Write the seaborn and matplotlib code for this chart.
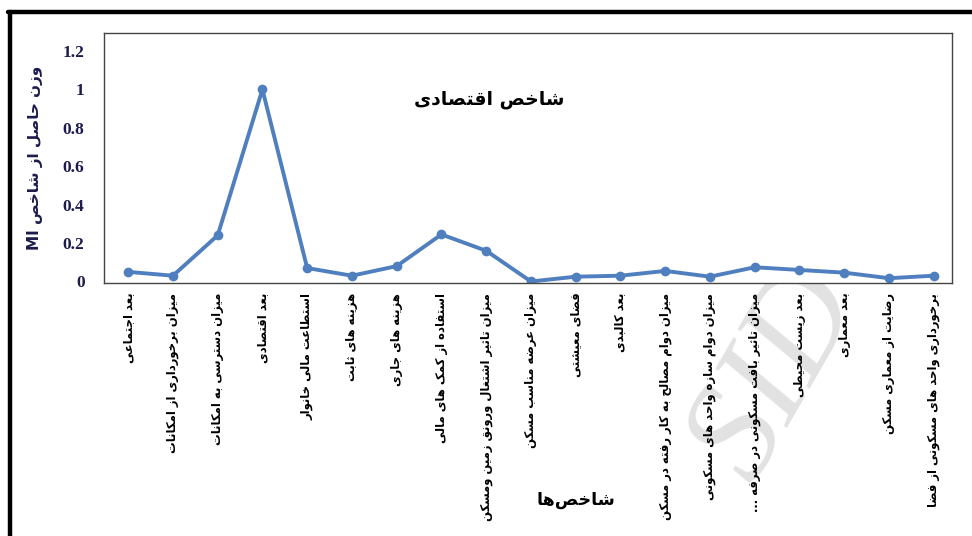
import numpy as np
import pandas as pd
import matplotlib
matplotlib.use('Agg')
import matplotlib.pyplot as plt
from matplotlib.lines import Line2D
import seaborn as sns
import re

SHAKHES = [
    'بعد اجتماعی',
    'میزان برخورداری از امکانات',
    'میزان دسترسی به امکانات',
    'بعد اقتصادی',
    'استطاعت مالی خانوار',
    'هزینه های ثابت',
    'هزینه های جاری',
    'استفاده از کمک های مالی',
    'میزان تاثیر اشتغال ورونق زمین ومسکن',
    'میزان عرضه مناسب مسکن',
    'فضای معیشتی',
    'بعد کالبدی',
    'میزان دوام مصالح به کار رفته در مسکن',
    'میزان دوام سازه واحد های مسکونی',
    'میزان تاثیر بافت مسکونی در صرفه ...',
    'بعد زیست محیطی',
    'بعد معماری',
    'رضایت از معماری مسکن',
    'برخورداری واحد های مسکونی از فضا',
]
VAZN = [0.05, 0.03, 0.24, 1.0, 0.07, 0.03, 0.08, 0.245, 0.16, 0.0,
        0.025, 0.03, 0.055, 0.025, 0.074, 0.06, 0.046, 0.017, 0.03]
Y_TICKS = [0, 0.2, 0.4, 0.6, 0.8, 1, 1.2]
Y_TICK_LABELS = ['0', '0.2', '0.4', '0.6', '0.8', '1', '1.2']
BASLIK   = 'شاخص اقتصادی'
X_ETIKET = 'شاخص\u200cها'
Y_ETIKET = 'وزن حاصل از شاخص MI'

# --- minimal arabic/persian shaping + bidi (matplotlib does no shaping) ---
FORMS = {
    'ا': ('\uFE8D', '\uFE8E', None, None), 'آ': ('\uFE81', '\uFE82', None, None),
    'ب': ('\uFE8F', '\uFE90', '\uFE91', '\uFE92'), 'پ': ('\uFB56', '\uFB57', '\uFB58', '\uFB59'),
    'ت': ('\uFE95', '\uFE96', '\uFE97', '\uFE98'), 'ث': ('\uFE99', '\uFE9A', '\uFE9B', '\uFE9C'),
    'ج': ('\uFE9D', '\uFE9E', '\uFE9F', '\uFEA0'), 'چ': ('\uFB7A', '\uFB7B', '\uFB7C', '\uFB7D'),
    'ح': ('\uFEA1', '\uFEA2', '\uFEA3', '\uFEA4'), 'خ': ('\uFEA5', '\uFEA6', '\uFEA7', '\uFEA8'),
    'د': ('\uFEA9', '\uFEAA', None, None), 'ذ': ('\uFEAB', '\uFEAC', None, None),
    'ر': ('\uFEAD', '\uFEAE', None, None), 'ز': ('\uFEAF', '\uFEB0', None, None),
    'ژ': ('\uFB8A', '\uFB8B', None, None),
    'س': ('\uFEB1', '\uFEB2', '\uFEB3', '\uFEB4'), 'ش': ('\uFEB5', '\uFEB6', '\uFEB7', '\uFEB8'),
    'ص': ('\uFEB9', '\uFEBA', '\uFEBB', '\uFEBC'), 'ض': ('\uFEBD', '\uFEBE', '\uFEBF', '\uFEC0'),
    'ط': ('\uFEC1', '\uFEC2', '\uFEC3', '\uFEC4'), 'ظ': ('\uFEC5', '\uFEC6', '\uFEC7', '\uFEC8'),
    'ع': ('\uFEC9', '\uFECA', '\uFECB', '\uFECC'), 'غ': ('\uFECD', '\uFECE', '\uFECF', '\uFED0'),
    'ف': ('\uFED1', '\uFED2', '\uFED3', '\uFED4'), 'ق': ('\uFED5', '\uFED6', '\uFED7', '\uFED8'),
    'ک': ('\uFB8E', '\uFB8F', '\uFB90', '\uFB91'), 'گ': ('\uFB92', '\uFB93', '\uFB94', '\uFB95'),
    'ل': ('\uFEDD', '\uFEDE', '\uFEDF', '\uFEE0'), 'م': ('\uFEE1', '\uFEE2', '\uFEE3', '\uFEE4'),
    'ن': ('\uFEE5', '\uFEE6', '\uFEE7', '\uFEE8'), 'و': ('\uFEED', '\uFEEE', None, None),
    'ه': ('\uFEE9', '\uFEEA', '\uFEEB', '\uFEEC'), 'ی': ('\uFBFC', '\uFBFD', '\uFBFE', '\uFBFF'),
}

def dual(c):
    return c in FORMS and FORMS[c][2] is not None

def shape(s):
    out = []
    for i, c in enumerate(s):
        if c not in FORMS:
            if c != '\u200c':
                out.append(c)
            continue
        prev = s[i - 1] if i > 0 else ''
        nxt = s[i + 1] if i + 1 < len(s) else ''
        jp = dual(prev)
        jn = dual(c) and nxt in FORMS
        iso, fin, ini, med = FORMS[c]
        if jp and jn:
            out.append(med)
        elif jp:
            out.append(fin)
        elif jn:
            out.append(ini)
        else:
            out.append(iso)
    return ''.join(out)

def fa(s):
    runs = re.findall(r'[A-Za-z0-9.]+|[^A-Za-z0-9.]+', s)
    return ''.join(r if re.match(r'[A-Za-z0-9.]', r) else shape(r)[::-1]
                   for r in runs[::-1])

sns.set_theme(style="white")
plt.rcParams['font.family'] = ['DejaVu Sans', 'Noto Sans']

df = pd.DataFrame({'sira': np.arange(len(SHAKHES)), 'vazn': VAZN})

fig = plt.figure(figsize=(9.72, 5.36), dpi=100)
ax = fig.add_axes([0.107, 0.472, 0.872, 0.466])

sns.lineplot(data=df, x='sira', y='vazn', ax=ax, color='#4f7fbf', linewidth=2.8,
             marker='o', markersize=7, markeredgewidth=0, sort=False)

ax.set_xlim(-0.54, 18.4)
ax.set_ylim(-0.008, 1.293)
ax.set_xticks(df['sira'])
ax.set_xticklabels([fa(s) for s in SHAKHES], rotation=90, fontsize=8.4,
                   fontweight='bold', color='black', ha='center', va='top')
ax.set_yticks(Y_TICKS)
ax.set_yticklabels(Y_TICK_LABELS, family=['Liberation Serif'], fontweight='bold',
                   fontsize=12.5, color='#1c1c4c')
ax.tick_params(axis='both', length=0)
ax.tick_params(axis='y', pad=14)
ax.tick_params(axis='x', pad=7)
for sp in ax.spines.values():
    sp.set_color('#444444')
    sp.set_linewidth(1.0)

ax.set_xlabel('')
ax.set_ylabel(fa(Y_ETIKET), fontsize=11, fontweight='bold', color='#1c1c4c', labelpad=14)
ax.text(0.455, 0.733, fa(BASLIK), transform=ax.transAxes, ha='center', va='center',
        fontsize=13.5, fontweight='bold', color='black')
fig.text(0.592, 0.068, fa(X_ETIKET), ha='center', va='center', fontsize=12.5,
         fontweight='bold', color='black')

# watermark
fig.text(0.8, 0.3, 'SID', fontsize=100, family=['Liberation Serif'], style='italic',
         color='#e2e2e2', rotation=60, ha='center', va='center', zorder=-1)

# outer frame
fig.add_artist(Line2D([0.008, 1.0], [0.978, 0.978], transform=fig.transFigure,
                      color='black', linewidth=3.2))
fig.add_artist(Line2D([0.0103, 0.0103], [0.0, 0.978], transform=fig.transFigure,
                      color='black', linewidth=3.2))

fig.savefig('out.png', dpi=100)
